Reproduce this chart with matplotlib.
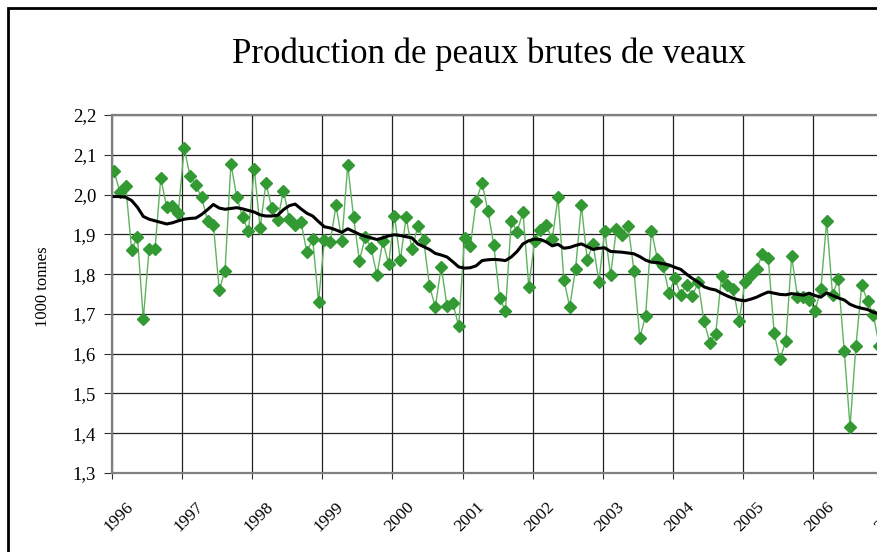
import matplotlib
matplotlib.use('Agg')
import matplotlib.pyplot as plt
import matplotlib.transforms as mtransforms
import numpy as np
from matplotlib.patches import Rectangle

plt.rcParams['font.family'] = ['Liberation Serif', 'DejaVu Serif']

# monthly production (1000 tonnes), Jan 1996 .. Dec 2006
production = [
    2.058, 2.006, 2.022, 1.861, 1.893, 1.687, 1.863, 1.863, 2.042, 1.969, 1.972, 1.954,  # 1996
    2.117, 2.047, 2.023, 1.993, 1.934, 1.924, 1.760, 1.809, 2.078, 1.994, 1.943, 1.908,  # 1997
    2.065, 1.915, 2.030, 1.965, 1.936, 2.010, 1.938, 1.923, 1.930, 1.856, 1.888, 1.731,  # 1998
    1.885, 1.880, 1.973, 1.884, 2.074, 1.943, 1.834, 1.893, 1.866, 1.797, 1.882, 1.826,  # 1999
    1.947, 1.835, 1.943, 1.862, 1.920, 1.886, 1.770, 1.717, 1.819, 1.720, 1.727, 1.669,  # 2000
    1.891, 1.871, 1.985, 2.029, 1.959, 1.874, 1.741, 1.707, 1.934, 1.907, 1.956, 1.768,  # 2001
    1.884, 1.911, 1.923, 1.887, 1.993, 1.786, 1.718, 1.812, 1.973, 1.836, 1.876, 1.781,  # 2002
    1.909, 1.797, 1.913, 1.899, 1.922, 1.809, 1.640, 1.695, 1.909, 1.839, 1.820, 1.753,  # 2003
    1.789, 1.748, 1.773, 1.746, 1.779, 1.681, 1.628, 1.649, 1.796, 1.773, 1.762, 1.682,  # 2004
    1.780, 1.798, 1.812, 1.850, 1.841, 1.652, 1.586, 1.631, 1.845, 1.743, 1.743, 1.735,  # 2005
    1.707, 1.762, 1.934, 1.748, 1.788, 1.607, 1.416, 1.619, 1.772, 1.732, 1.696, 1.620,  # 2006
]

# 12-month moving average
moving_avg = [
    1.995, 1.995, 1.993, 1.985, 1.968, 1.945, 1.938, 1.934, 1.930, 1.926, 1.929, 1.934,
    1.938, 1.940, 1.941, 1.950, 1.962, 1.975, 1.966, 1.963, 1.965, 1.967, 1.964, 1.960,
    1.956, 1.949, 1.946, 1.946, 1.948, 1.962, 1.972, 1.976, 1.964, 1.953, 1.946, 1.932,
    1.919, 1.916, 1.911, 1.905, 1.914, 1.907, 1.900, 1.895, 1.891, 1.887, 1.891, 1.896,
    1.899, 1.897, 1.894, 1.891, 1.876, 1.869, 1.862, 1.852, 1.848, 1.843, 1.831, 1.818,
    1.815, 1.816, 1.821, 1.834, 1.836, 1.837, 1.836, 1.834, 1.843, 1.857, 1.876, 1.884,
    1.888, 1.887, 1.881, 1.871, 1.875, 1.865, 1.867, 1.872, 1.876, 1.869, 1.862, 1.865,
    1.866, 1.857, 1.856, 1.855, 1.853, 1.851, 1.844, 1.835, 1.830, 1.829, 1.826, 1.823,
    1.817, 1.812, 1.800, 1.789, 1.780, 1.768, 1.763, 1.760, 1.752, 1.745, 1.739, 1.735,
    1.733, 1.737, 1.742, 1.749, 1.755, 1.752, 1.749, 1.748, 1.751, 1.749, 1.747, 1.752,
    1.746, 1.742, 1.753, 1.746, 1.740, 1.735, 1.724, 1.718, 1.714, 1.711, 1.704, 1.700,
]

start_year = 1996
years = list(range(1996, 2009))
y_ticks = [1.3, 1.4, 1.5, 1.6, 1.7, 1.8, 1.9, 2.0, 2.1, 2.2]

months = start_year + (np.arange(len(production)) + 0.35) / 12.0

fig = plt.figure(figsize=(8.78, 5.52), dpi=100)
# axes runs off the right edge, as in the cropped original
ax = fig.add_axes([0.1276, 0.1431, 0.958, 0.6486])

ax.plot(months, production, color='#5fb35f', lw=1.0, marker='D', markersize=5.8,
        markerfacecolor='#339933', markeredgecolor='#339933', zorder=3)
ax.plot(months, moving_avg, color='black', lw=2.2, zorder=4)

ax.set_xlim(1996, 2008)
ax.set_ylim(1.3, 2.2)
ax.set_xticks(years)
ax.set_xticklabels([str(y) for y in years], rotation=45, ha='center', va='top', fontsize=12.5)
ax.set_yticks(y_ticks)
ax.set_yticklabels([('%.1f' % v).replace('.', ',') for v in y_ticks], fontsize=13.5)
ax.tick_params(axis='x', length=4.5, pad=14, color='#333333')
ax.tick_params(axis='y', length=5.5, pad=6, color='#333333')
# year labels sit a little right of their tick in the original
shift = mtransforms.ScaledTranslation(7 / 100, 0, fig.dpi_scale_trans)
for lab in ax.get_xticklabels():
    lab.set_transform(lab.get_transform() + shift)
ax.grid(True, color='#222222', lw=0.9)
ax.set_axisbelow(True)
for s in ax.spines.values():
    s.set_color('#808080')
    s.set_linewidth(1.6)

ax.set_ylabel('1000 tonnes', fontsize=12)
ax.yaxis.set_label_coords(-0.0725, 0.52)
fig.text(0.557, 1 - 63 / 552, 'Production de peaux brutes de veaux', ha='center',
         va='baseline', fontsize=25)

# chart area border (only left and top visible)
fig.patches.append(Rectangle((8 / 878, -0.1), 1.2, 1.1 - 8 / 552, transform=fig.transFigure,
                             fill=False, edgecolor='black', lw=2))

fig.savefig('out.png', dpi=100)
